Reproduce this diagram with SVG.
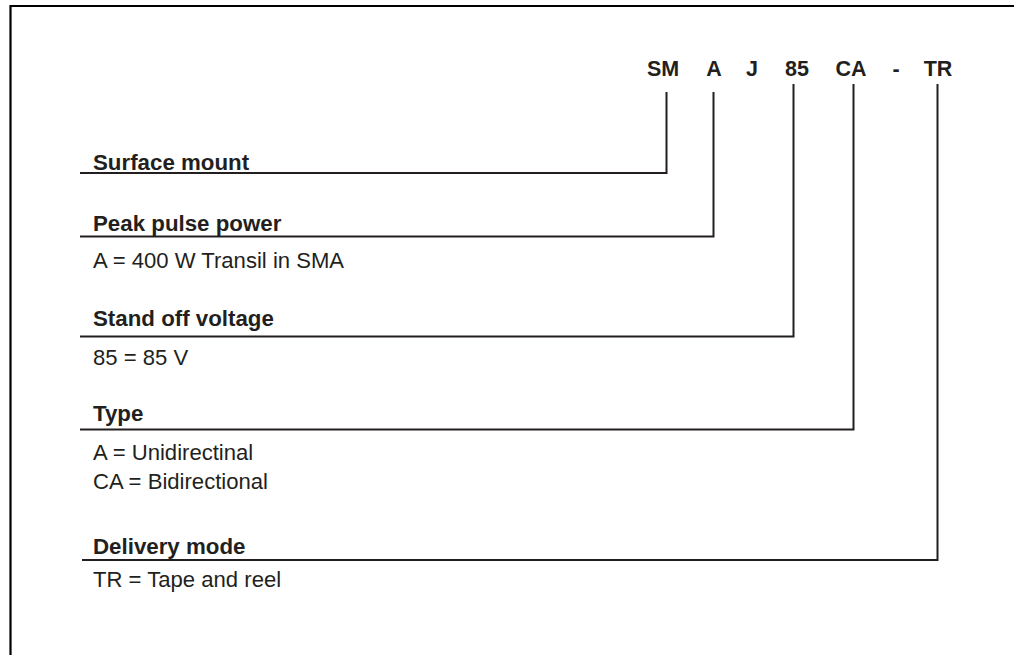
<svg xmlns="http://www.w3.org/2000/svg" width="1014" height="655" viewBox="0 0 1014 655">
<style>
.frame{fill:none;stroke:#000;stroke-width:2.2}
.conn{fill:none;stroke:#231f20;stroke-width:2}
.hd{font-family:"Liberation Sans",Arial,sans-serif;font-weight:bold;font-size:21.5px;fill:#231f20;text-anchor:middle}
.lb{font-family:"Liberation Sans",Arial,sans-serif;font-weight:bold;font-size:22.3px;fill:#231f20}
.tx{font-family:"Liberation Sans",Arial,sans-serif;font-size:22.1px;fill:#231f20}
</style>
<rect width="1014" height="655" fill="#fff"/>
<path class="frame" d="M10.5 655 V6 H1014"/>
<g id="code">
<text class="hd" x="663" y="76">SM</text>
<text class="hd" x="714" y="76">A</text>
<text class="hd" x="752" y="76">J</text>
<text class="hd" x="797" y="76">85</text>
<text class="hd" x="851" y="76">CA</text>
<text class="hd" x="896" y="76">-</text>
<text class="hd" x="938" y="76">TR</text>
</g>
<g id="connectors">
<path class="conn" d="M80 173 H666.5 V92"/>
<path class="conn" d="M80 236.5 H713.5 V92"/>
<path class="conn" d="M80 336.5 H793.5 V84"/>
<path class="conn" d="M80 429.5 H853.5 V84"/>
<path class="conn" d="M82 560 H937.5 V84"/>
</g>
<g id="surface-mount">
<text class="lb" x="93" y="170">Surface mount</text>
</g>
<g id="peak-pulse-power">
<text class="lb" x="93" y="231">Peak pulse power</text>
<text class="tx" x="93" y="268">A = 400 W Transil in SMA</text>
</g>
<g id="stand-off-voltage">
<text class="lb" x="93" y="326">Stand off voltage</text>
<text class="tx" x="93" y="365">85 = 85 V</text>
</g>
<g id="type">
<text class="lb" x="93" y="421">Type</text>
<text class="tx" x="93" y="460">A = Unidirectinal</text>
<text class="tx" x="93" y="489">CA = Bidirectional</text>
</g>
<g id="delivery-mode">
<text class="lb" x="93" y="554">Delivery mode</text>
<text class="tx" x="93" y="587">TR = Tape and reel</text>
</g>
</svg>
